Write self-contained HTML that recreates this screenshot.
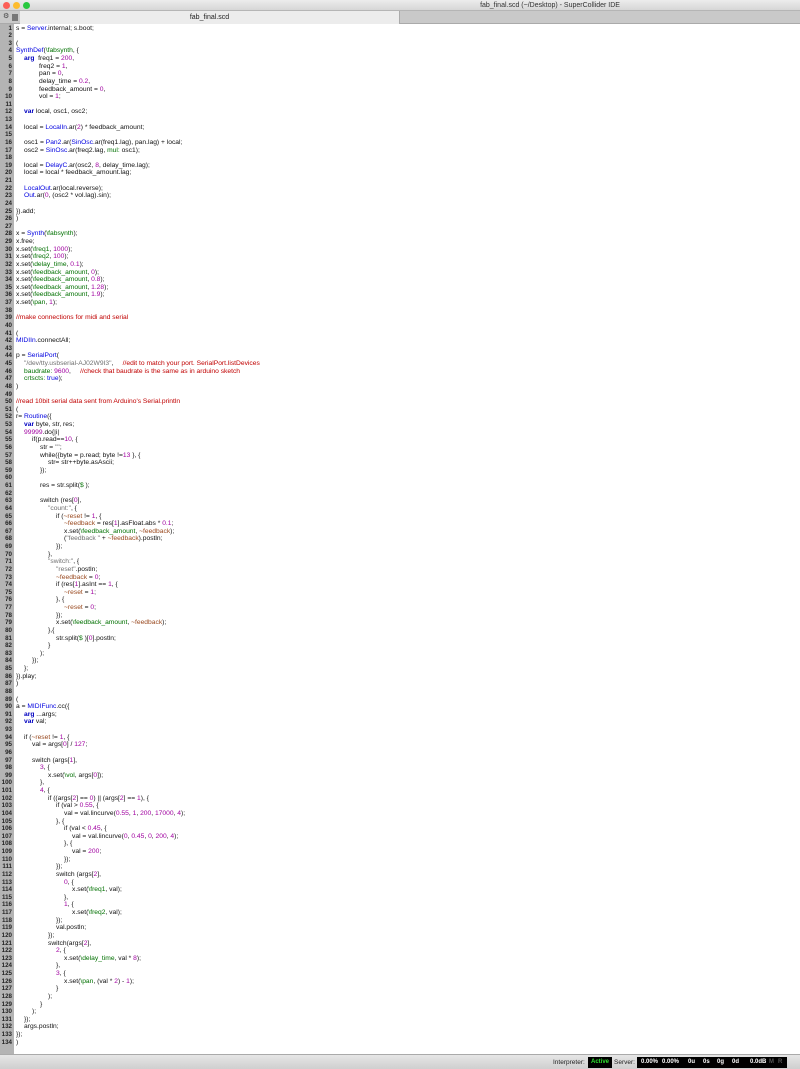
<!DOCTYPE html>
<html><head><meta charset="utf-8"><style>
*{margin:0;padding:0;box-sizing:border-box}
html,body{width:800px;height:1069px;overflow:hidden}
body{background:#fff;font-family:"Liberation Sans",sans-serif;position:relative}
#title{position:absolute;left:0;top:0;width:800px;height:11px;background:linear-gradient(#ececec,#d6d6d6);border-bottom:1px solid #b5b5b5;font-size:7px;line-height:11px;text-align:center;color:#333}
.dot{position:absolute;top:2px;width:7px;height:7px;border-radius:50%}
#tabs{position:absolute;left:0;top:11px;width:800px;height:13px;background:#c9c9c9;border-bottom:1px solid #aaa}
#tab{position:absolute;left:20px;top:0;width:380px;height:13px;background:#ececec;border-right:1px solid #aaa;font-size:7px;line-height:13px;text-align:center;color:#222}
#gutter{position:absolute;left:0;top:24px;width:14px;height:1030px;background:#b4b4b4}
#nums{position:absolute;left:0;top:24.5px;width:12px;font-size:6.2px;line-height:7.632px;text-align:right;color:#222;font-weight:bold;white-space:pre}
#code{position:absolute;left:16px;top:24.5px;font-size:6.7px;line-height:7.632px;color:#111;white-space:normal}
#code div{height:7.632px;white-space:pre}
.i1{padding-left:8px}.i2{padding-left:16px}.i3{padding-left:24px}.i4{padding-left:32px}.i5{padding-left:40px}.i6{padding-left:48px}.i7{padding-left:56px}
.c{color:#0000e0}.k{color:#0000c0;font-weight:bold}.s{color:#007000}.n{color:#a000a0}.r{color:#c00000}.g{color:#707070}.e{color:#9a4a20}
#status{position:absolute;left:0;top:1054px;width:800px;height:15px;background:linear-gradient(#e6e6e6,#cfcfcf);border-top:1px solid #aaa;font-size:6.5px;line-height:15px;color:#222}
.bx{position:absolute;top:2px;height:11px;line-height:11px;background:#000;color:#fff;font-weight:bold;font-size:6px}
</style></head><body>
<div id="title"><div class="dot" style="left:3px;background:#fc5f57"></div><div class="dot" style="left:13px;background:#fdbc2e"></div><div class="dot" style="left:23px;background:#28c840"></div><span style="position:absolute;left:340px;width:420px;text-align:center">fab_final.scd (~/Desktop) - SuperCollider IDE</span></div>
<div id="tabs"><span style="position:absolute;left:3px;top:1px;font-size:7px;color:#444">⚙</span><span style="position:absolute;left:12px;top:3px;width:6px;height:7px;background:#777"></span><div id="tab">fab_final.scd</div></div>
<div id="gutter"></div>
<div id="nums">1
2
3
4
5
6
7
8
9
10
11
12
13
14
15
16
17
18
19
20
21
22
23
24
25
26
27
28
29
30
31
32
33
34
35
36
37
38
39
40
41
42
43
44
45
46
47
48
49
50
51
52
53
54
55
56
57
58
59
60
61
62
63
64
65
66
67
68
69
70
71
72
73
74
75
76
77
78
79
80
81
82
83
84
85
86
87
88
89
90
91
92
93
94
95
96
97
98
99
100
101
102
103
104
105
106
107
108
109
110
111
112
113
114
115
116
117
118
119
120
121
122
123
124
125
126
127
128
129
130
131
132
133
134</div>
<div id="code">
<div>s = <span class="c">Server</span>.internal; s.boot;</div>
<div></div>
<div>(</div>
<div><span class="c">SynthDef</span>(<span class="s">\fabsynth</span>, {</div>
<div class="i1"><span class="k">arg</span>  freq1 = <span class="n">200</span>,</div>
<div style="padding-left:23px">freq2 = <span class="n">1</span>,</div>
<div style="padding-left:23px">pan = <span class="n">0</span>,</div>
<div style="padding-left:23px">delay_time = <span class="n">0.2</span>,</div>
<div style="padding-left:23px">feedback_amount = <span class="n">0</span>,</div>
<div style="padding-left:23px">vol = <span class="n">1</span>;</div>
<div></div>
<div class="i1"><span class="k">var</span> local, osc1, osc2;</div>
<div></div>
<div class="i1">local = <span class="c">LocalIn</span>.ar(<span class="n">2</span>) * feedback_amount;</div>
<div></div>
<div class="i1">osc1 = <span class="c">Pan2</span>.ar(<span class="c">SinOsc</span>.ar(freq1.lag), pan.lag) + local;</div>
<div class="i1">osc2 = <span class="c">SinOsc</span>.ar(freq2.lag, <span class="s">mul:</span> osc1);</div>
<div></div>
<div class="i1">local = <span class="c">DelayC</span>.ar(osc2, <span class="n">8</span>, delay_time.lag);</div>
<div class="i1">local = local * feedback_amount.lag;</div>
<div></div>
<div class="i1"><span class="c">LocalOut</span>.ar(local.reverse);</div>
<div class="i1"><span class="c">Out</span>.ar(<span class="n">0</span>, (osc2 * vol.lag).sin);</div>
<div></div>
<div>}).add;</div>
<div>)</div>
<div></div>
<div>x = <span class="c">Synth</span>(<span class="s">\fabsynth</span>);</div>
<div>x.free;</div>
<div>x.set(<span class="s">\freq1</span>, <span class="n">1000</span>);</div>
<div>x.set(<span class="s">\freq2</span>, <span class="n">100</span>);</div>
<div>x.set(<span class="s">\delay_time</span>, <span class="n">0.1</span>);</div>
<div>x.set(<span class="s">\feedback_amount</span>, <span class="n">0</span>);</div>
<div>x.set(<span class="s">\feedback_amount</span>, <span class="n">0.8</span>);</div>
<div>x.set(<span class="s">\feedback_amount</span>, <span class="n">1.28</span>);</div>
<div>x.set(<span class="s">\feedback_amount</span>, <span class="n">1.9</span>);</div>
<div>x.set(<span class="s">\pan</span>, <span class="n">1</span>);</div>
<div></div>
<div class="r">//make connections for midi and serial</div>
<div></div>
<div>(</div>
<div><span class="c">MIDIIn</span>.connectAll;</div>
<div></div>
<div>p = <span class="c">SerialPort</span>(</div>
<div class="i1"><span class="g">"/dev/tty.usbserial-AJ02W9I3"</span>,     <span class="r">//edit to match your port. SerialPort.listDevices</span></div>
<div class="i1"><span class="s">baudrate:</span> <span class="n">9600</span>,     <span class="r">//check that baudrate is the same as in arduino sketch</span></div>
<div class="i1"><span class="s">crtscts:</span> <span class="c">true</span>);</div>
<div>)</div>
<div></div>
<div class="r">//read 10bit serial data sent from Arduino's Serial.println</div>
<div>(</div>
<div>r= <span class="c">Routine</span>({</div>
<div class="i1"><span class="k">var</span> byte, str, res;</div>
<div class="i1"><span class="n">99999</span>.do{|i|</div>
<div class="i2">if(p.read==<span class="n">10</span>, {</div>
<div class="i3">str = <span class="g">""</span>;</div>
<div class="i3">while({byte = p.read; byte !=<span class="n">13</span> }, {</div>
<div class="i4">str= str++byte.asAscii;</div>
<div class="i3">});</div>
<div></div>
<div class="i3">res = str.split(<span class="s">$ </span>);</div>
<div></div>
<div class="i3">switch (res[<span class="n">0</span>],</div>
<div class="i4"><span class="g">"count:"</span>, {</div>
<div class="i5">if (<span class="e">~reset</span> != <span class="n">1</span>, {</div>
<div class="i6"><span class="e">~feedback</span> = res[<span class="n">1</span>].asFloat.abs * <span class="n">0.1</span>;</div>
<div class="i6">x.set(<span class="s">\feedback_amount</span>, <span class="e">~feedback</span>);</div>
<div class="i6">(<span class="g">"feedback "</span> + <span class="e">~feedback</span>).postln;</div>
<div class="i5">});</div>
<div class="i4">},</div>
<div class="i4"><span class="g">"switch:"</span>, {</div>
<div class="i5"><span class="g">"reset"</span>.postln;</div>
<div class="i5"><span class="e">~feedback</span> = <span class="n">0</span>;</div>
<div class="i5">if (res[<span class="n">1</span>].asInt == <span class="n">1</span>, {</div>
<div class="i6"><span class="e">~reset</span> = <span class="n">1</span>;</div>
<div class="i5">}, {</div>
<div class="i6"><span class="e">~reset</span> = <span class="n">0</span>;</div>
<div class="i5">});</div>
<div class="i5">x.set(<span class="s">\feedback_amount</span>, <span class="e">~feedback</span>);</div>
<div class="i4">},{</div>
<div class="i5">str.split(<span class="s">$ </span>)[<span class="n">0</span>].postln;</div>
<div class="i4">}</div>
<div class="i3">);</div>
<div class="i2">});</div>
<div class="i1">};</div>
<div>}).play;</div>
<div>)</div>
<div></div>
<div>(</div>
<div>a = <span class="c">MIDIFunc</span>.cc({</div>
<div class="i1"><span class="k">arg</span> ...args;</div>
<div class="i1"><span class="k">var</span> val;</div>
<div></div>
<div class="i1">if (<span class="e">~reset</span> != <span class="n">1</span>, {</div>
<div class="i2">val = args[<span class="n">0</span>] / <span class="n">127</span>;</div>
<div></div>
<div class="i2">switch (args[<span class="n">1</span>],</div>
<div class="i3"><span class="n">3</span>, {</div>
<div class="i4">x.set(<span class="s">\vol</span>, args[<span class="n">0</span>]);</div>
<div class="i3">},</div>
<div class="i3"><span class="n">4</span>, {</div>
<div class="i4">if ((args[<span class="n">2</span>] == <span class="n">0</span>) || (args[<span class="n">2</span>] == <span class="n">1</span>), {</div>
<div class="i5">if (val &gt; <span class="n">0.55</span>, {</div>
<div class="i6">val = val.lincurve(<span class="n">0.55</span>, <span class="n">1</span>, <span class="n">200</span>, <span class="n">17000</span>, <span class="n">4</span>);</div>
<div class="i5">}, {</div>
<div class="i6">if (val &lt; <span class="n">0.45</span>, {</div>
<div class="i7">val = val.lincurve(<span class="n">0</span>, <span class="n">0.45</span>, <span class="n">0</span>, <span class="n">200</span>, <span class="n">4</span>);</div>
<div class="i6">}, {</div>
<div class="i7">val = <span class="n">200</span>;</div>
<div class="i6">});</div>
<div class="i5">});</div>
<div class="i5">switch (args[<span class="n">2</span>],</div>
<div class="i6"><span class="n">0</span>, {</div>
<div class="i7">x.set(<span class="s">\freq1</span>, val);</div>
<div class="i6">},</div>
<div class="i6"><span class="n">1</span>, {</div>
<div class="i7">x.set(<span class="s">\freq2</span>, val);</div>
<div class="i5">});</div>
<div class="i5">val.postln;</div>
<div class="i4">});</div>
<div class="i4">switch(args[<span class="n">2</span>],</div>
<div class="i5"><span class="n">2</span>, {</div>
<div class="i6">x.set(<span class="s">\delay_time</span>, val * <span class="n">8</span>);</div>
<div class="i5">},</div>
<div class="i5"><span class="n">3</span>, {</div>
<div class="i6">x.set(<span class="s">\pan</span>, (val * <span class="n">2</span>) - <span class="n">1</span>);</div>
<div class="i5">}</div>
<div class="i4">);</div>
<div class="i3">}</div>
<div class="i2">);</div>
<div class="i1">});</div>
<div class="i1">args.postln;</div>
<div>});</div>
<div>)</div>
</div>
<div id="status">
<span style="position:absolute;left:553px">Interpreter:</span>
<div class="bx" style="left:588px;width:24px;color:#2ee02e;text-align:center">Active</div>
<span style="position:absolute;left:614px">Server:</span>
<div class="bx" style="left:637px;width:150px"><span style="position:absolute;left:4px">0.00%</span><span style="position:absolute;left:25px">0.00%</span><span style="position:absolute;left:51px">0u</span><span style="position:absolute;left:66px">0s</span><span style="position:absolute;left:80px">0g</span><span style="position:absolute;left:95px">0d</span><span style="position:absolute;left:113px">0.0dB</span><span style="position:absolute;left:132px;color:#555">M</span><span style="position:absolute;left:141px;color:#555">R</span></div>
</div>
</body></html>
